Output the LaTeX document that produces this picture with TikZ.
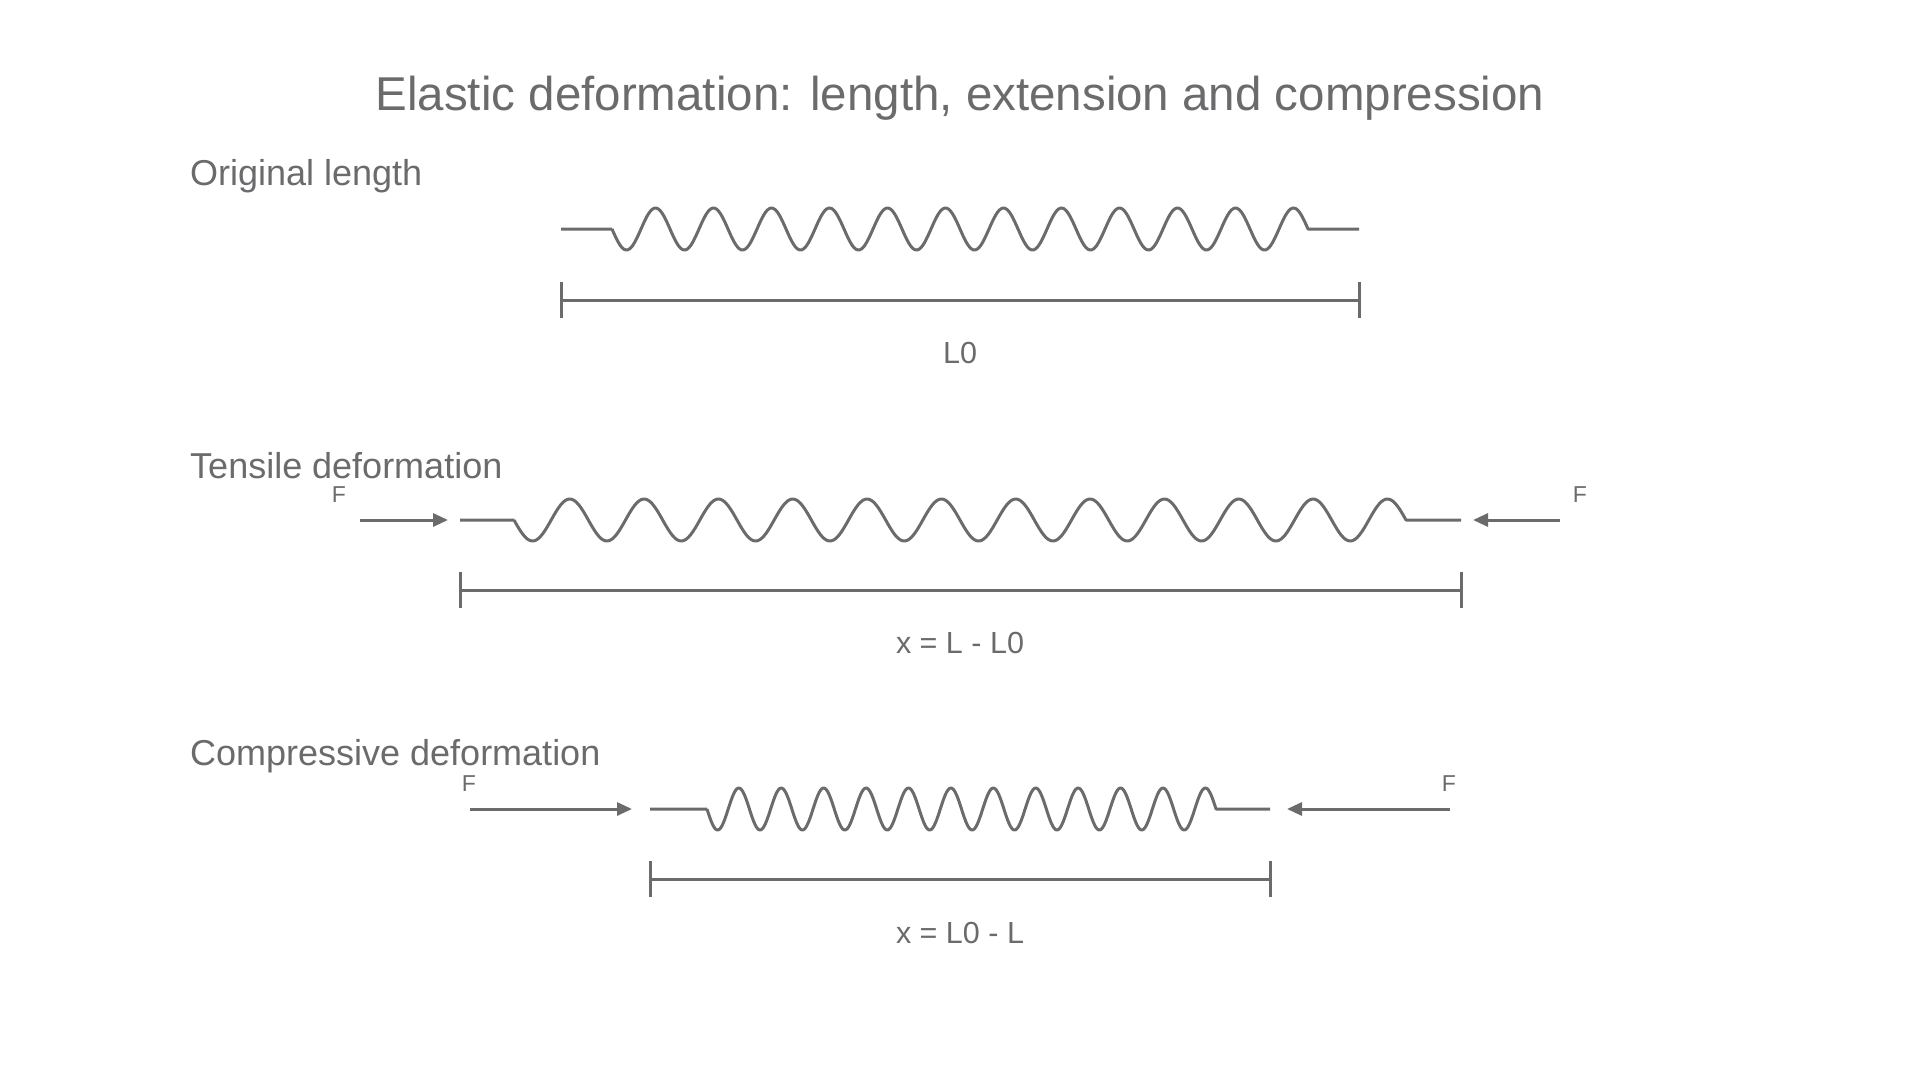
\documentclass[tikz,border=0pt]{standalone}
\usepackage{fontspec}
\setmainfont{Liberation Sans}
\usetikzlibrary{arrows.meta}
\definecolor{ink}{HTML}{6B6B6E}
\begin{document}
\begin{tikzpicture}[x=1pt,y=-1pt,
  line/.style={draw=ink,line width=3pt},
  force/.style={line,-{Triangle[length=15pt,width=13pt]}},
  txt/.style={text=ink,inner sep=0pt},
  title/.style={txt,font=\fontsize{47.5}{56}\selectfont},
  sect/.style={txt,font=\fontsize{36}{43}\selectfont,anchor=west},
  lab/.style={txt,font=\fontsize{30.5}{36}\selectfont},
  flab/.style={txt,font=\fontsize{23}{27}\selectfont}]
\useasboundingbox (0,0) rectangle (1920,1080);
\newcommand{\mkspring}[5]{% lead-start, coil-start, coil-end, lead-end, y
  \draw[line,line join=round] (#1,#5) -- (#2,#5)
    plot[domain=0:12,samples=400,smooth] ({#2+\x*(#3-#2)/12},{#5+21*sin(360*\x)})
    -- (#4,#5);}
\newcommand{\mkbar}[4]{% x0, x1, y, name
  \coordinate (#4a) at (#1,#3); \coordinate (#4b) at (#2,#3);
  \draw[line] (#4a) -- (#4b);
  \draw[line] ([yshift=-18pt]#4a) -- ([yshift=18pt]#4a);
  \draw[line] ([yshift=-18pt]#4b) -- ([yshift=18pt]#4b);}

\node[title] (t) at (960,98) {Elastic deformation: length, extension and compression};

% Original
\node[sect] (s1) at (190,176) {Original length};
\mkspring{561}{612}{1308}{1359}{229}
\mkbar{561}{1359}{300}{b1}
\node[lab] (l1) at (960,353) {L0};

% Tensile
\node[sect] (s2) at (190,466) {Tensile deformation};
\coordinate (f1s) at (360,520); \coordinate (f1e) at (448,520);
\draw[force] (f1s) -- (f1e);
\node[flab] (F1) at (339,495) {F};
\mkspring{460}{514}{1406}{1461}{520}
\coordinate (f2s) at (1560,520); \coordinate (f2e) at (1473,520);
\draw[force] (f2s) -- (f2e);
\node[flab] (F2) at (1580,495) {F};
\mkbar{460}{1461}{590}{b2}
\node[lab] (l2) at (960,643) {x = L - L0};

% Compressive
\node[sect] (s3) at (190,756) {Compressive deformation};
\coordinate (f3s) at (470,809); \coordinate (f3e) at (632,809);
\draw[force] (f3s) -- (f3e);
\node[flab] (F3) at (469,784) {F};
\mkspring{650}{707}{1216}{1270}{809}
\coordinate (f4s) at (1450,809); \coordinate (f4e) at (1287,809);
\draw[force] (f4s) -- (f4e);
\node[flab] (F4) at (1449,784) {F};
\mkbar{650}{1270}{879}{b3}
\node[lab] (l3) at (960,933) {x = L0 - L};
\end{tikzpicture}
\end{document}
